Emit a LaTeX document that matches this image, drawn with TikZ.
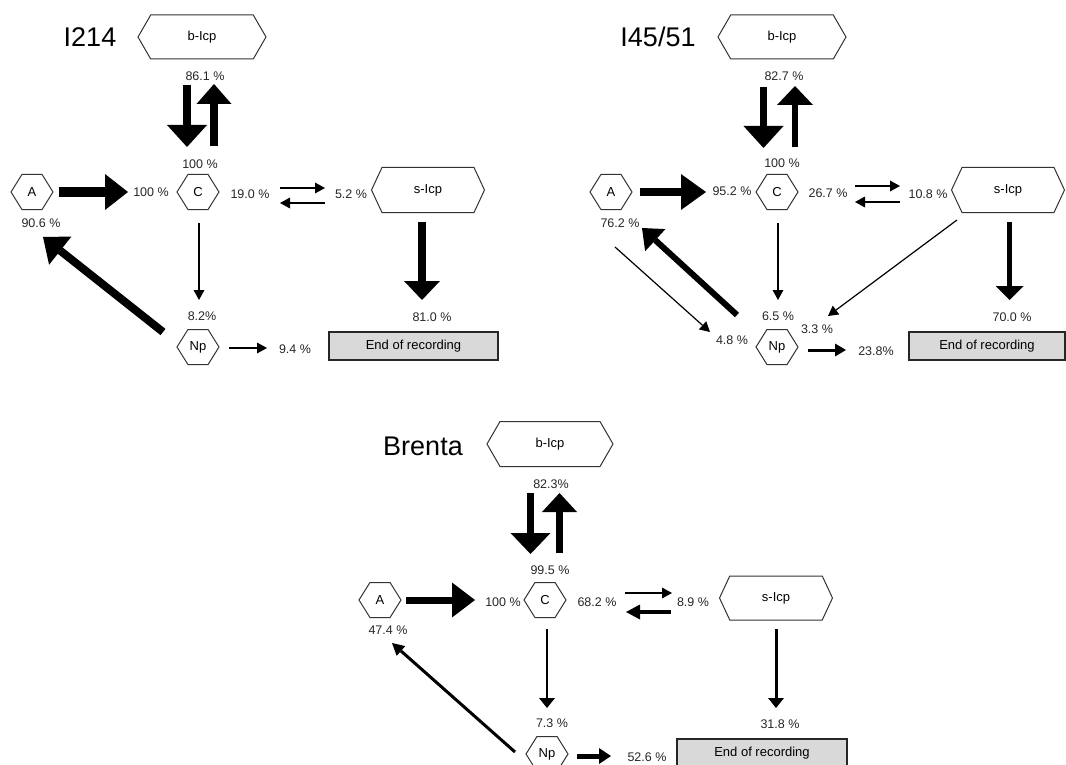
\documentclass[tikz,border=0pt]{standalone}
\usepackage{fontspec}
\setmainfont{Liberation Sans}
\usetikzlibrary{shapes.symbols,arrows.meta}

\tikzset{
  hex/.style={draw=black!80, line width=1pt, shape=signal, signal to=west and east,
    signal pointer angle=116, minimum width=42pt, minimum height=35pt, inner sep=0pt,
    font=\fontsize{13}{15}\selectfont},
  bighex/.style={hex, minimum width=#1, minimum height=44pt, signal pointer angle=120},
  pct/.style={inner sep=0pt, text=black!85, font=\fontsize{12.5}{14}\selectfont},
  paneltitle/.style={inner sep=0pt, font=\fontsize{27}{30}\selectfont},
  endbox/.style={draw=black!85, line width=1.2pt, fill=black!15, minimum height=28pt,
    inner sep=0pt, font=\fontsize{13}{15}\selectfont},
  flow/.style args={#1/#2/#3}{line width=#1pt, -{Triangle[width=#2pt,length=#3pt,line width=0pt]}},
  slim/.style={flow=1.2/11/10},
}

\begin{document}
\begin{tikzpicture}[x=1pt,y=-1pt]
  \useasboundingbox (0,0) rectangle (1066,765);

  % I214
  \node[paneltitle] (t1) at (90,37) {I214};
  \node[bighex=128pt] (b1) at (202,37) {b-Icp};
  \node[hex] (a1) at (32,192) {A};
  \node[hex] (c1) at (198,192) {C};
  \node[bighex=113pt, minimum height=45pt, signal pointer angle=130] (s1) at (428,190) {s-Icp};
  \node[hex] (np1) at (198,347) {Np};
  \node[endbox, minimum width=169pt] (e1) at (413.5,346) {End of recording};
  \node[pct] (p1b) at (205,76) {86.1 \%};
  \node[pct] (p1c) at (200,164) {100 \%};
  \node[pct] (p1ac) at (151,192) {100 \%};
  \node[pct] (p1cs) at (250,194) {19.0 \%};
  \node[pct] (p1sc) at (351,194) {5.2 \%};
  \node[pct] (p1e) at (432,317) {81.0 \%};
  \node[pct] (p1a) at (41,223) {90.6 \%};
  \node[pct] (p1n) at (202,316) {8.2\%};
  \node[pct] (p1x) at (295,349) {9.4 \%};
  \draw[flow=8/40/22] ([shift={(-15,48)}]b1.center) -- ([shift={(-11,-45)}]c1.center);
  \draw[flow=8/35/20] ([shift={(16,-46)}]c1.center) -- ([shift={(12,47)}]b1.center);
  \draw[flow=9/36/23] ([shift={(27,0)}]a1.center) -- ([shift={(-70,0)}]c1.center);
  \draw[slim] ([shift={(82,-4)}]c1.center) -- ([shift={(-103,-2)}]s1.center);
  \draw[slim] ([shift={(-103,13)}]s1.center) -- ([shift={(82,11)}]c1.center);
  \draw[flow=8/36/19] ([shift={(-6,32)}]s1.center) -- ([shift={(8.5,-46)}]e1.center);
  \draw[flow=8/36/22] ([shift={(-35,-15)}]np1.center) -- ([shift={(11,45)}]a1.center);
  \draw[slim] ([shift={(1,31)}]c1.center) -- ([shift={(1,-47)}]np1.center);
  \draw[slim] ([shift={(31,1)}]np1.center) -- ([shift={(-28,-1)}]p1x.center);

  % I45/51
  \node[paneltitle] (t2) at (658,37) {I45/51};
  \node[bighex=128pt] (b2) at (782,37) {b-Icp};
  \node[hex] (a2) at (611,192) {A};
  \node[hex] (c2) at (777,192) {C};
  \node[bighex=113pt, minimum height=45pt, signal pointer angle=130] (s2) at (1008,190) {s-Icp};
  \node[hex] (np2) at (777,347) {Np};
  \node[endbox, minimum width=156pt] (e2) at (987,346) {End of recording};
  \node[pct] (p2b) at (784,76) {82.7 \%};
  \node[pct] (p2c) at (782,163) {100 \%};
  \node[pct] (p2ac) at (732,191) {95.2 \%};
  \node[pct] (p2cs) at (828,193) {26.7 \%};
  \node[pct] (p2sc) at (928,194) {10.8 \%};
  \node[pct] (p2e) at (1012,317) {70.0 \%};
  \node[pct] (p2a) at (620,223) {76.2 \%};
  \node[pct] (p2n) at (778,316) {6.5 \%};
  \node[pct] (p2sn) at (817,329) {3.3 \%};
  \node[pct] (p2an) at (732,340) {4.8 \%};
  \node[pct] (p2x) at (876,351) {23.8\%};
  \draw[flow=7/40/22] ([shift={(-18.5,50)}]b2.center) -- ([shift={(-13.5,-44)}]c2.center);
  \draw[flow=6.5/36/19] ([shift={(18,-45)}]c2.center) -- ([shift={(13,49)}]b2.center);
  \draw[flow=8/36/25] ([shift={(29,0)}]a2.center) -- ([shift={(-71,0)}]c2.center);
  \draw[slim] ([shift={(78,-6)}]c2.center) -- ([shift={(-108,-4)}]s2.center);
  \draw[slim] ([shift={(-108,12)}]s2.center) -- ([shift={(78,10)}]c2.center);
  \draw[flow=5/28/14] ([shift={(1.5,32)}]s2.center) -- ([shift={(22.5,-46)}]e2.center);
  \draw[slim] ([shift={(4,55)}]a2.center) -- ([shift={(-67,-15)}]np2.center);
  \draw[flow=6/30/18] ([shift={(-40,-32)}]np2.center) -- ([shift={(31,36)}]a2.center);
  \draw[slim] ([shift={(1,31)}]c2.center) -- ([shift={(1,-47)}]np2.center);
  \draw[slim] ([shift={(-51,30)}]s2.center) -- ([shift={(51,-31)}]np2.center);
  \draw[flow=3/13/11] ([shift={(31,3)}]np2.center) -- ([shift={(-30,-1)}]p2x.center);

  % Brenta
  \node[paneltitle] (t3) at (423,446) {Brenta};
  \node[bighex=126pt, minimum height=45pt] (b3) at (550,444) {b-Icp};
  \node[hex] (a3) at (380,600) {A};
  \node[hex] (c3) at (545,600) {C};
  \node[bighex=113pt, signal pointer angle=130] (s3) at (776,598) {s-Icp};
  \node[hex] (np3) at (547,754) {Np};
  \node[endbox, minimum width=170pt] (e3) at (762,753) {End of recording};
  \node[pct] (p3b) at (551,484) {82.3\%};
  \node[pct] (p3c) at (550,570) {99.5 \%};
  \node[pct] (p3ac) at (503,602) {100 \%};
  \node[pct] (p3cs) at (597,602) {68.2 \%};
  \node[pct] (p3sc) at (693,602) {8.9 \%};
  \node[pct] (p3e) at (780,724) {31.8 \%};
  \node[pct] (p3a) at (388,630) {47.4 \%};
  \node[pct] (p3n) at (552,723) {7.3 \%};
  \node[pct] (p3x) at (647,757) {52.6 \%};
  \draw[flow=7/40/21] ([shift={(-19.5,49)}]b3.center) -- ([shift={(-14.5,-46)}]c3.center);
  \draw[flow=7/35/19] ([shift={(14.5,-47)}]c3.center) -- ([shift={(9.5,49)}]b3.center);
  \draw[flow=7/35/23] ([shift={(26,0)}]a3.center) -- ([shift={(-70,0)}]c3.center);
  \draw[slim] ([shift={(80,-7)}]c3.center) -- ([shift={(-104,-5)}]s3.center);
  \draw[flow=4/15/14] ([shift={(-105,14)}]s3.center) -- ([shift={(81,12)}]c3.center);
  \draw[flow=3/16/10] ([shift={(0,31)}]s3.center) -- ([shift={(14,-45)}]e3.center);
  \draw[flow=3/13/12] ([shift={(-32,-2)}]np3.center) -- ([shift={(12,43)}]a3.center);
  \draw[flow=1.2/16/10] ([shift={(2,29)}]c3.center) -- ([shift={(0,-46)}]np3.center);
  \draw[flow=5/16/12] ([shift={(30,2)}]np3.center) -- ([shift={(-36,-1)}]p3x.center);
\end{tikzpicture}
\end{document}
